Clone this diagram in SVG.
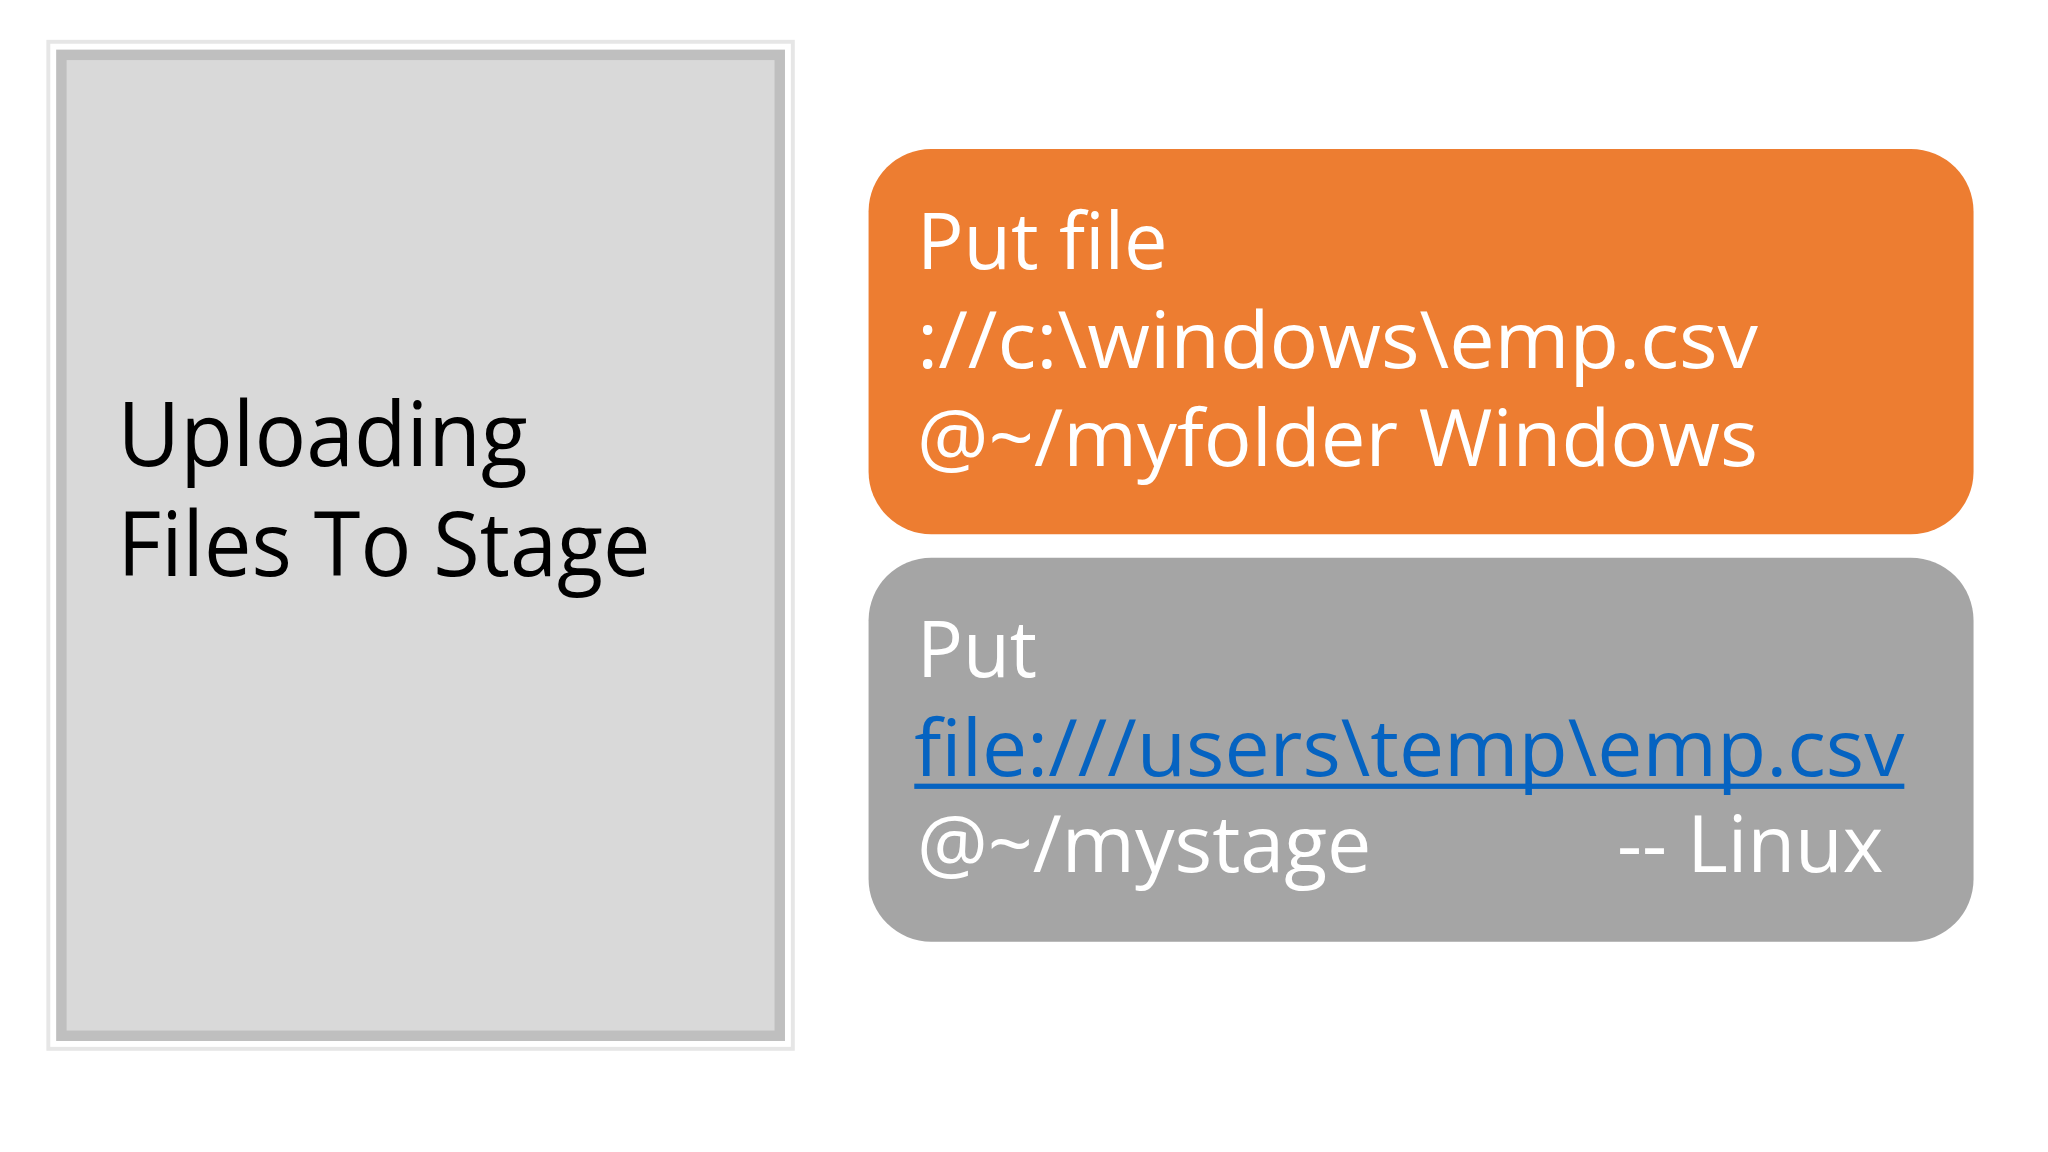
<svg xmlns="http://www.w3.org/2000/svg" width="2048" height="1152" viewBox="0 0 2048 1152">
<style>
.t{font-family:"Open Sans","Noto Sans",sans-serif;fill:#fff;font-size:60px}
.h{font-family:"Open Sans","Noto Sans",sans-serif;fill:#000;font-size:68px}
</style>
<rect width="2048" height="1152" fill="#fff"/>
<g transform="scale(1.30612)">
<g id="title">
<rect x="37" y="32" width="570" height="771" fill="none" stroke="#e6e6e6" stroke-width="3"/>
<rect x="47" y="42" width="550" height="751" fill="#d9d9d9" stroke="#bfbfbf" stroke-width="8"/>
<text class="h" x="90" y="357" textLength="314" lengthAdjust="spacingAndGlyphs">Uploading</text>
<text class="h" x="90" y="441" textLength="408" lengthAdjust="spacingAndGlyphs">Files To Stage</text>
</g>
<g id="windows">
<rect x="665" y="114" width="846" height="295" rx="48" fill="#ed7d31"/>
<text class="t" x="702" y="206" textLength="192" lengthAdjust="spacingAndGlyphs">Put file</text>
<text class="t" x="702" y="282" textLength="644" lengthAdjust="spacingAndGlyphs">://c:\windows\emp.csv</text>
<text class="t" x="702" y="357" textLength="644" lengthAdjust="spacingAndGlyphs">@~/myfolder Windows</text>
</g>
<g id="linux">
<rect x="665" y="427" width="846" height="294" rx="48" fill="#a5a5a5"/>
<text class="t" x="702" y="518" textLength="92" lengthAdjust="spacingAndGlyphs">Put</text>
<text class="t" x="700" y="594" style="fill:#0563c1" textLength="758" lengthAdjust="spacingAndGlyphs">file:///users\temp\emp.csv</text>
<rect x="700" y="600" width="758" height="4" fill="#0563c1"/>
<text class="t" x="702" y="668" textLength="348" lengthAdjust="spacingAndGlyphs">@~/mystage</text>
<text class="t" x="1238" y="668" textLength="204" lengthAdjust="spacingAndGlyphs">-- Linux</text>
</g>
</g>
</svg>
